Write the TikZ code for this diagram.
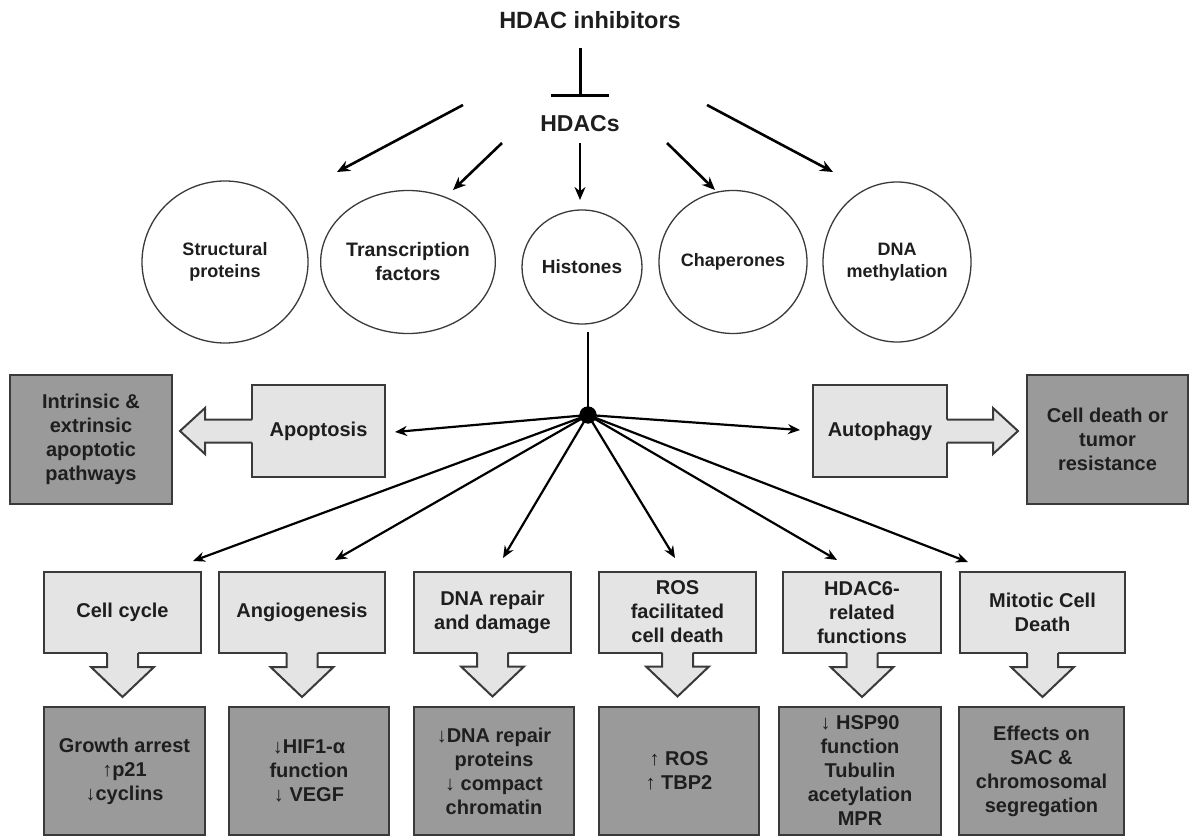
\documentclass[tikz,border=0pt]{standalone}
\usepackage{fontspec}
\setmainfont{Liberation Sans}
\usetikzlibrary{arrows.meta,shapes.geometric,calc}
\definecolor{lightbox}{HTML}{E4E4E4}
\definecolor{darkbox}{HTML}{9A9A9A}
\definecolor{edge}{HTML}{3A3A3A}
\definecolor{ink}{HTML}{1E1E1E}
\newcommand{\dnarrow}[1]{%
  \fill[lightbox] ($(#1.south)+(-15.5,-3)$) -- ($(#1.south)+(-15.5,14)$) -- ($(#1.south)+(-31.5,14)$) -- ($(#1.south)+(0,44)$) -- ($(#1.south)+(31.5,14)$) -- ($(#1.south)+(15.5,14)$) -- ($(#1.south)+(15.5,-3)$) -- cycle;
  \draw[blk] ($(#1.south)+(-15.5,0)$) -- ($(#1.south)+(-15.5,14)$) -- ($(#1.south)+(-31.5,14)$) -- ($(#1.south)+(0,44)$) -- ($(#1.south)+(31.5,14)$) -- ($(#1.south)+(15.5,14)$) -- ($(#1.south)+(15.5,0)$);
}
\begin{document}
\begin{tikzpicture}[x=1pt,y=-1pt,
  txt/.style={font=\bfseries\fontsize{20}{24}\selectfont, text=ink, align=center},
  ell/.style={ellipse, draw=edge, line width=1.3pt, inner sep=0pt, font=\bfseries\fontsize{18}{22}\selectfont, text=ink, align=center},
  lbox/.style={rectangle, draw=edge, line width=2pt, fill=lightbox, inner sep=0pt, outer sep=0pt, txt},
  dbox/.style={rectangle, draw=edge, line width=2pt, fill=darkbox, inner sep=0pt, outer sep=0pt, txt},
  blk/.style={draw=edge, line width=2pt, line join=miter},
  arr/.style={line width=2.6pt, -{Stealth[length=13pt,width=11pt]}},
  spoke/.style={line width=2.2pt, -{Stealth[length=12pt,width=10pt]}},
]
\useasboundingbox (0,0) rectangle (1190,837);
\fill[white] (0,0) rectangle (1190,837);

% top
\node[font=\bfseries\fontsize{23.5}{28}\selectfont, text=ink] (inh) at (590,20) {HDAC inhibitors};
\node[font=\bfseries\fontsize{23}{28}\selectfont, text=ink] (hdacs) at (580,124) {HDACs};
\coordinate (tbtop) at (580,48);
\coordinate (tbbot) at (580,97);
\draw[line width=3pt, -{Bar[width=58pt]}] (tbtop) -- (tbbot);

% ellipses
\node[ell, minimum width=166pt, minimum height=162pt] (sp) at (225,262) {Structural\\proteins};
\node[ell, minimum width=167pt, minimum height=143pt, font=\bfseries\fontsize{19.5}{24}\selectfont] (tf) at (408,262) {Transcription\\factors};
\node[ell, minimum width=120pt, minimum height=114pt, font=\bfseries\fontsize{19}{23}\selectfont] (hi) at (582,267) {Histones};
\node[ell, minimum width=148pt, minimum height=143pt] (ch) at (733,262) {Chaperones};
\node[ell, minimum width=148pt, minimum height=160pt] (dm) at (897,262) {DNA\\methylation};

% arrows from HDACs
\coordinate (a1s) at (463,105); \coordinate (a1e) at (337,172);
\coordinate (a2s) at (502,143); \coordinate (a2e) at (453,190);
\coordinate (a3s) at (580,143); \coordinate (a3e) at (580,200);
\coordinate (a4s) at (667,143); \coordinate (a4e) at (715,190);
\coordinate (a5s) at (707,105); \coordinate (a5e) at (833,172);
\draw[arr] (a1s) -- (a1e);
\draw[arr] (a2s) -- (a2e);
\draw[arr] (a3s) -- (a3e);
\draw[arr] (a4s) -- (a4e);
\draw[arr] (a5s) -- (a5e);

% middle boxes
\node[dbox, minimum width=162pt, minimum height=129pt] (intr) at (91,439.5) {Intrinsic \&\\extrinsic\\apoptotic\\pathways};
\node[lbox, minimum width=133pt, minimum height=92pt] (ap) at (318.5,431) {Apoptosis};
\node[lbox, minimum width=134pt, minimum height=92pt] (au) at (880,431) {Autophagy};
\node[dbox, minimum width=161pt, minimum height=129pt] (cd) at (1107.5,439.5) {Cell death or\\tumor\\resistance};

% left block arrow
\fill[lightbox] ($(ap.west)+(3,-11.5)$) -- ($(ap.west)+(-47,-11.5)$) -- ($(ap.west)+(-47,-23)$) -- ($(ap.west)+(-72,0)$) -- ($(ap.west)+(-47,23)$) -- ($(ap.west)+(-47,11.5)$) -- ($(ap.west)+(3,11.5)$) -- cycle;
\draw[blk] ($(ap.west)+(0,-11.5)$) -- ($(ap.west)+(-47,-11.5)$) -- ($(ap.west)+(-47,-23)$) -- ($(ap.west)+(-72,0)$) -- ($(ap.west)+(-47,23)$) -- ($(ap.west)+(-47,11.5)$) -- ($(ap.west)+(0,11.5)$);
% right block arrow
\fill[lightbox] ($(au.east)+(-3,-11.5)$) -- ($(au.east)+(46,-11.5)$) -- ($(au.east)+(46,-23)$) -- ($(au.east)+(71,0)$) -- ($(au.east)+(46,23)$) -- ($(au.east)+(46,11.5)$) -- ($(au.east)+(-3,11.5)$) -- cycle;
\draw[blk] ($(au.east)+(0,-11.5)$) -- ($(au.east)+(46,-11.5)$) -- ($(au.east)+(46,-23)$) -- ($(au.east)+(71,0)$) -- ($(au.east)+(46,23)$) -- ($(au.east)+(46,11.5)$) -- ($(au.east)+(0,11.5)$);

% bottom top-row boxes
\node[lbox, minimum width=157pt, minimum height=81pt] (cc) at (122.5,612.5) {Cell cycle};
\node[lbox, minimum width=166pt, minimum height=81pt] (an) at (302,612.5) {Angiogenesis};
\node[lbox, minimum width=157pt, minimum height=81pt] (dr) at (492.5,612) {DNA repair\\and damage};
\node[lbox, minimum width=157pt, minimum height=81pt] (ro) at (677.5,612) {ROS\\facilitated\\cell death};
\node[lbox, minimum width=158pt, minimum height=81pt] (h6) at (862,612.5) {HDAC6-\\related\\functions};
\node[lbox, minimum width=165pt, minimum height=81pt] (mi) at (1042.5,612.5) {Mitotic Cell\\Death};

\dnarrow{cc}
\dnarrow{an}
\dnarrow{dr}
\dnarrow{ro}
\dnarrow{h6}
\dnarrow{mi}

% bottom result boxes
\node[dbox, minimum width=161pt, minimum height=128pt] (r1) at (124.5,771) {Growth arrest\\↑p21\\↓cyclins};
\node[dbox, minimum width=160pt, minimum height=128pt] (r2) at (309,771) {↓HIF1-α\\function\\↓ VEGF};
\node[dbox, minimum width=160pt, minimum height=128pt] (r3) at (494,771) {↓DNA repair\\proteins\\↓ compact\\chromatin};
\node[dbox, minimum width=160pt, minimum height=128pt] (r4) at (679,771) {↑ ROS\\↑ TBP2};
\node[dbox, minimum width=162pt, minimum height=128pt] (r5) at (860,771) {↓ HSP90\\function\\Tubulin\\acetylation\\MPR};
\node[dbox, minimum width=165pt, minimum height=128pt] (r6) at (1041.5,771) {Effects on\\SAC \&\\chromosomal\\segregation};

% hub and spokes
\coordinate (hbot) at (588,332);
\coordinate (apt) at (395,432);
\coordinate (aut) at (800,430);
\coordinate (t1) at (193,561);
\coordinate (t2) at (335,560);
\coordinate (t3) at (503,558);
\coordinate (t4) at (675,558);
\coordinate (t5) at (837,560);
\coordinate (t6) at (968,562);
\node[circle, fill=black, inner sep=0pt, minimum size=17pt] (hub) at (588,415) {};
\draw[line width=1.6pt] (hbot) -- (hub.center);
\draw[spoke] (hub.center) -- (apt);
\draw[spoke] (hub.center) -- (aut);
\draw[spoke] (hub.center) -- (t1);
\draw[spoke] (hub.center) -- (t2);
\draw[spoke] (hub.center) -- (t3);
\draw[spoke] (hub.center) -- (t4);
\draw[spoke] (hub.center) -- (t5);
\draw[spoke] (hub.center) -- (t6);
\fill[black] (hub) circle (8.5pt);
\end{tikzpicture}
\end{document}
